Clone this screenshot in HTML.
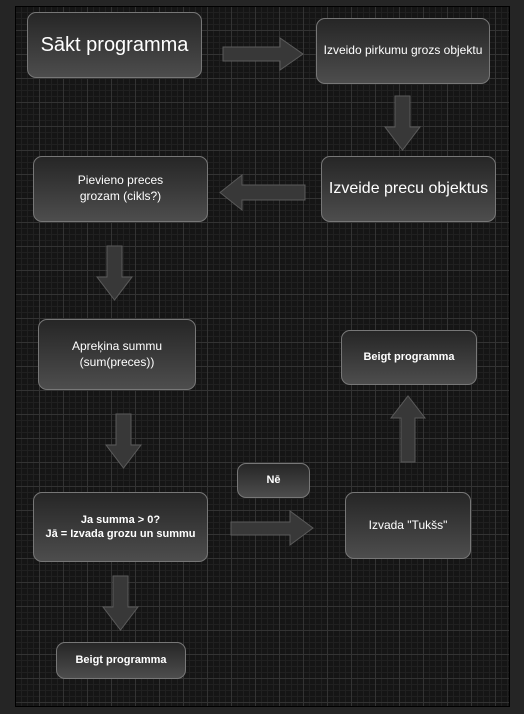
<!DOCTYPE html>
<html><head><meta charset="utf-8"><style>
html,body{margin:0;padding:0;width:524px;height:714px;background:#252525;overflow:hidden;font-family:"Liberation Sans",Arial,sans-serif}
#c{position:absolute;left:15px;top:6px;width:495px;height:701px;border:1px solid #000;box-sizing:border-box;
background-color:#151515;
background-image:linear-gradient(#333 1px,transparent 1px),linear-gradient(90deg,#333 1px,transparent 1px),linear-gradient(#202020 1px,transparent 1px),linear-gradient(90deg,#202020 1px,transparent 1px);
background-size:24px 24px,24px 24px,6px 6px,6px 6px;background-position:0 -1px,-1px 0,0 -1px,-1px 0}
.n{position:absolute;box-sizing:border-box;border:1px solid #777;border-radius:9px;background:linear-gradient(#262626,#4d4d4d);color:#fff;display:flex;align-items:center;justify-content:center;text-align:center;line-height:1.3}
svg{position:absolute;left:0;top:0}
</style></head><body>
<div id="c"></div>
<svg width="524" height="714"><g fill="#383838" stroke="#5a5a5a" stroke-width="1">
<polygon points="223,47 280,47 280,38 303,54 280,70 280,61 223,61"/>
<polygon points="395,96 410,96 410,127 420,127 402.5,150 385,127 395,127"/>
<polygon points="305,185 242,185 242,175 220,192.5 242,210 242,200 305,200"/>
<polygon points="107,246 122,246 122,277 132,277 114.5,300 97,277 107,277"/>
<polygon points="116,414 131,414 131,445 141,445 123.5,468 106,445 116,445"/>
<polygon points="113,576 128,576 128,607 138,607 120.5,630 103,607 113,607"/>
<polygon points="231,522 290,522 290,511 313,528 290,545 290,535 231,535"/>
<polygon points="401,462 415,462 415,418 425,418 408,396 391,418 401,418"/>
</g></svg>
<div class="n" style="left:27px;top:12px;width:175px;height:66px;font-size:20px">Sākt programma</div>
<div class="n" style="left:316px;top:18px;width:174px;height:66px;font-size:12px">Izveido pirkumu grozs objektu</div>
<div class="n" style="left:321px;top:156px;width:175px;height:66px;font-size:16px">Izveide precu objektus</div>
<div class="n" style="left:33px;top:156px;width:175px;height:66px;font-size:12px">Pievieno preces<br>grozam (cikls?)</div>
<div class="n" style="left:38px;top:319px;width:158px;height:71px;font-size:12px">Apreķina summu<br>(sum(preces))</div>
<div class="n" style="left:341px;top:330px;width:136px;height:55px;font-size:11px;font-weight:bold">Beigt programma</div>
<div class="n" style="left:237px;top:463px;width:73px;height:35px;font-size:11px;font-weight:bold">Nē</div>
<div class="n" style="left:33px;top:492px;width:175px;height:70px;font-size:11px;font-weight:bold">Ja summa &gt; 0?<br>Jā = Izvada grozu un summu</div>
<div class="n" style="left:345px;top:492px;width:126px;height:67px;font-size:12px">Izvada "Tukšs"</div>
<div class="n" style="left:56px;top:642px;width:130px;height:37px;font-size:11px;font-weight:bold">Beigt programma</div>
</body></html>
